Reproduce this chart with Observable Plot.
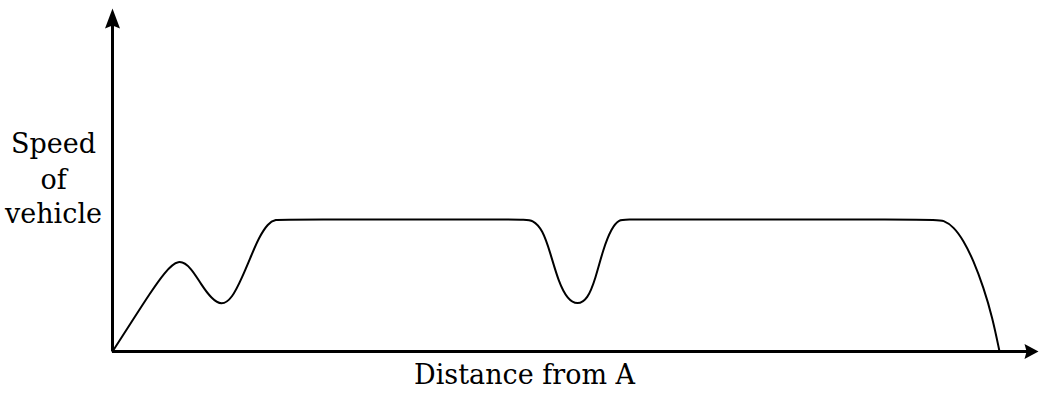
<!DOCTYPE html>
<html>
<head>
<meta charset="utf-8">
<script src="https://cdn.jsdelivr.net/npm/d3@7"></script>
<script src="https://cdn.jsdelivr.net/npm/@observablehq/plot@0.6"></script>
<style>
  html, body { margin: 0; padding: 0; background: #fff; }
  #chart svg { display: block; }
</style>
</head>
<body>
<div id="chart"></div>
<script>
// Distance from A (0–100) and speed of vehicle (0–100)
const distance = [0, 2.0, 4.1, 5.6, 7.13, 8.5, 9.6, 10.7, 11.77, 12.9, 14.0, 14.9, 15.8, 16.8, 17.6, 18.6,
  44.4, 45.36, 46.44, 47.30, 48.16, 49.14, 50.22, 51.30, 52.16, 53.0, 53.9, 54.7, 55.6,
  88.8, 89.74, 90.82, 91.90, 92.98, 94.06, 95.03, 95.79];
const speed = [0, 8.4, 17.2, 23.0, 27.2, 24.4, 19.4, 15.4, 13.4, 15.4, 21.6, 27.4, 33.2, 37.4, 38.5, 38.5,
  38.5, 38.4, 35.6, 28.6, 20.4, 15.2, 13.6, 15.2, 21.2, 30.0, 36.0, 38.5, 38.5,
  38.5, 38.3, 36.4, 32.4, 26.5, 18.7, 9.9, 0];

const yLabelLines = ["Speed", "of", "vehicle"];
const yLabelPos = [58.0, 47.5, 37.6];
const xLabel = "Distance from A";
const xLabelPos = 44.5;

const curve = distance.map((d, i) => ({distance: d, speed: speed[i]}));
const yLabels = yLabelLines.map((t, i) => ({text: t, y: yLabelPos[i]}));

function arrowHead(len, half) {
  return {
    draw(ctx) {
      ctx.moveTo(0, 0);
      ctx.lineTo(half, len);
      ctx.lineTo(0, len * 0.85);
      ctx.lineTo(-half, len);
      ctx.closePath();
    }
  };
}

const font = "'DejaVu Serif', serif";

const chart = Plot.plot({
  width: 1039,
  height: 394,
  marginLeft: 112,
  marginRight: 1,
  marginTop: 8,
  marginBottom: 43,
  x: {domain: [0, 100], axis: null},
  y: {domain: [0, 100], axis: null},
  marks: [
    Plot.ruleX([0], {y1: 0, y2: 96, stroke: "black", strokeWidth: 3}),
    Plot.ruleY([0], {x1: 0, x2: 99, stroke: "black", strokeWidth: 3}),
    Plot.dot([{x: 0, y: 100}], {x: "x", y: "y", symbol: arrowHead(20, 7.5), fill: "black", stroke: "none", r: 5}),
    Plot.dot([{x: 100, y: 0}], {x: "x", y: "y", symbol: arrowHead(14, 7.5), rotate: 90, fill: "black", stroke: "none", r: 5}),
    Plot.line(curve, {x: "distance", y: "speed", curve: "basis", stroke: "black", strokeWidth: 2}),
    Plot.text(yLabels, {y: "y", text: "text", frameAnchor: "left", dx: -59, textAnchor: "middle", lineAnchor: "bottom",
      fontFamily: font, fontSize: 27, fill: "black"}),
    Plot.text([xLabel], {x: () => xLabelPos, text: d => d, frameAnchor: "bottom", dy: 32, textAnchor: "middle", lineAnchor: "bottom",
      fontFamily: font, fontSize: 27, fill: "black"})
  ]
});
document.getElementById("chart").appendChild(chart);
</script>
</body>
</html>
